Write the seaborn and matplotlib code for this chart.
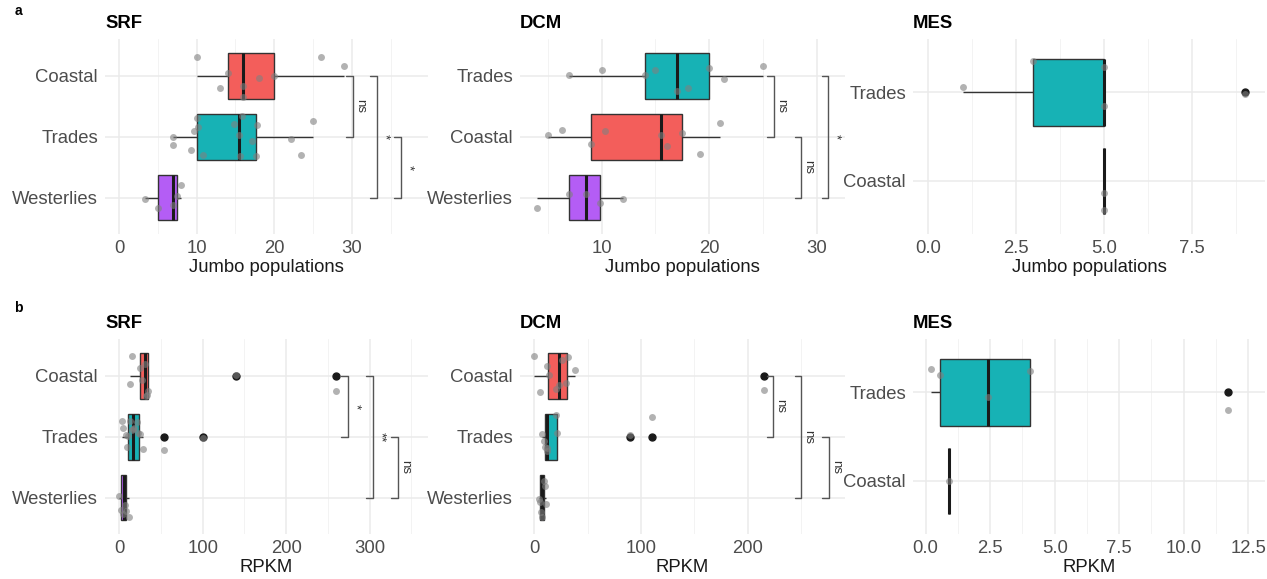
import numpy as np
import pandas as pd
import matplotlib
matplotlib.use("Agg")
import matplotlib.pyplot as plt
import seaborn as sns
from matplotlib.ticker import MultipleLocator, FormatStrFormatter

# panel a: number of jumbo phage populations per sample
jumbo_srf_coastal = [10, 13, 14, 16, 16, 18, 20, 26, 29]
jumbo_srf_trades = [7, 7, 9.3, 9.6, 10, 10.2, 10.8, 14.8, 15.5, 15.6, 15.8, 17.1, 17.7, 17.8, 22.2, 23.4, 25]
jumbo_srf_westerlies = [3.3, 5, 7, 7.5, 8]
jumbo_dcm_trades = [7, 10, 14, 15, 17, 18, 20, 21.4, 25]
jumbo_dcm_coastal = [5, 6.3, 9, 10.3, 15.5, 16.1, 17.5, 19.2, 21]
jumbo_dcm_westerlies = [4, 7, 8.5, 9.8, 12]
jumbo_mes_trades = [1, 3, 5, 5, 9]
jumbo_mes_coastal = [5, 5]

# panel b: RPKM
rpkm_srf_coastal = [13, 15, 25, 27, 31, 32, 33, 35, 140, 260]
rpkm_srf_trades = [3, 5, 8, 9, 11, 13, 15, 16, 18, 21, 23, 25, 28, 54, 101]
rpkm_srf_westerlies = [0, 2, 5, 7, 8, 12]
rpkm_dcm_coastal = [0, 5, 12, 14, 20, 23, 26, 30, 32, 38, 215]
rpkm_dcm_trades = [7, 9, 10, 11.5, 12, 20, 21.5, 90, 110]
rpkm_dcm_westerlies = [4, 5, 6, 7, 9, 10, 11]
rpkm_mes_trades = [0.2, 0.55, 2.4, 4.05, 11.7]
rpkm_mes_coastal = [0.9]

# significance brackets: (group1, group2, bracket position, label)
sig_a_srf = [("Coastal", "Trades", 30.1, "ns"), ("Coastal", "Westerlies", 33.2, "*"), ("Trades", "Westerlies", 36.3, "*")]
sig_a_dcm = [("Trades", "Coastal", 26.0, "ns"), ("Coastal", "Westerlies", 28.6, "ns"), ("Trades", "Westerlies", 31.1, "*")]
sig_b_srf = [("Coastal", "Trades", 274, "*"), ("Coastal", "Westerlies", 304, "**"), ("Trades", "Westerlies", 334, "ns")]
sig_b_dcm = [("Coastal", "Trades", 224, "ns"), ("Coastal", "Westerlies", 250, "ns"), ("Trades", "Westerlies", 275.6, "ns")]

colors = {"Coastal": "#F35E5B", "Trades": "#17B2B5", "Westerlies": "#B45DF5"}

sns.set_style("white")
plt.rcParams["font.family"] = ["Liberation Sans", "DejaVu Sans"]
np.random.seed(7)


def make_df(groups):
    rows = []
    for name, vals in groups.items():
        for v in vals:
            rows.append({"group": name, "value": v})
    return pd.DataFrame(rows)


panels = [
    dict(groups={"Coastal": jumbo_srf_coastal, "Trades": jumbo_srf_trades, "Westerlies": jumbo_srf_westerlies},
         title="SRF", xlabel="Jumbo populations", xlim=(-1.8, 39.8), major=10, minor=5, fmt="%d",
         sig=sig_a_srf, pos=[105, 39.4, 428, 234]),
    dict(groups={"Trades": jumbo_dcm_trades, "Coastal": jumbo_dcm_coastal, "Westerlies": jumbo_dcm_westerlies},
         title="DCM", xlabel="Jumbo populations", xlim=(2.4, 32.65), major=10, minor=5, fmt="%d",
         sig=sig_a_dcm, pos=[520, 39.4, 845, 234]),
    dict(groups={"Trades": jumbo_mes_trades, "Coastal": jumbo_mes_coastal},
         title="MES", xlabel="Jumbo populations", xlim=(-0.42, 9.58), major=2.5, minor=1.25, fmt="%.1f",
         sig=[], pos=[913, 39.4, 1265, 234]),
    dict(groups={"Coastal": rpkm_srf_coastal, "Trades": rpkm_srf_trades, "Westerlies": rpkm_srf_westerlies},
         title="SRF", xlabel="RPKM", xlim=(-17, 370), major=100, minor=50, fmt="%d",
         sig=sig_b_srf, pos=[105, 339.4, 428, 534]),
    dict(groups={"Coastal": rpkm_dcm_coastal, "Trades": rpkm_dcm_trades, "Westerlies": rpkm_dcm_westerlies},
         title="DCM", xlabel="RPKM", xlim=(-13.4, 291), major=100, minor=50, fmt="%d",
         sig=sig_b_dcm, pos=[520, 339.4, 845, 534]),
    dict(groups={"Trades": rpkm_mes_trades, "Coastal": rpkm_mes_coastal},
         title="MES", xlabel="RPKM", xlim=(-0.49, 13.15), major=2.5, minor=1.25, fmt="%.1f",
         sig=[], pos=[913, 339.4, 1265, 534]),
]

W, H = 1267, 579
fig = plt.figure(figsize=(W / 100, H / 100), dpi=100)

for p in panels:
    x0, y0, x1, y1 = p["pos"]
    ax = fig.add_axes([x0 / W, 1 - y1 / H, (x1 - x0) / W, (y1 - y0) / H])
    df = make_df(p["groups"])
    order = list(p["groups"].keys())

    sns.boxplot(data=df, x="value", y="group", hue="group", order=order, hue_order=order,
                palette=colors, saturation=1, width=0.75, linecolor="#333333", linewidth=1,
                showcaps=False, legend=False, ax=ax,
                medianprops=dict(color="#1A1A1A", linewidth=2.2),
                flierprops=dict(marker="o", markerfacecolor="#1A1A1A", markeredgecolor="#1A1A1A",
                                markersize=5))
    sns.stripplot(data=df, x="value", y="group", order=order, color="#808080", alpha=0.6,
                  size=5, jitter=0.36, linewidth=0, ax=ax)

    lo, hi = p["xlim"]
    rng = hi - lo
    for g1, g2, xb, lab in p["sig"]:
        ya, yb = order.index(g1), order.index(g2)
        tip = 0.02 * rng
        ax.plot([xb - tip, xb, xb, xb - tip], [ya, ya, yb, yb], color="#555555", lw=1, zorder=5)
        ax.text(xb + 0.022 * rng, (ya + yb) / 2, lab, rotation=-90, ha="center", va="center",
                fontsize=9.5, color="#333333")

    ax.set_xlim(lo, hi)
    ax.set_ylim(len(order) - 0.4, -0.6)
    ax.xaxis.set_major_locator(MultipleLocator(p["major"]))
    ax.xaxis.set_minor_locator(MultipleLocator(p["minor"]))
    ax.xaxis.set_major_formatter(FormatStrFormatter(p["fmt"]))
    ax.grid(which="major", axis="both", color="#EBEBEB", lw=1.1)
    ax.grid(which="minor", axis="x", color="#F3F3F3", lw=0.7)
    ax.set_axisbelow(True)
    for s in ax.spines.values():
        s.set_visible(False)
    ax.tick_params(axis="both", which="both", length=0, labelsize=13.3, labelcolor="#4D4D4D")
    ax.tick_params(axis="y", pad=5)
    ax.tick_params(axis="x", pad=4)
    ax.set_ylabel("")
    ax.set_xlabel(p["xlabel"], fontsize=13.3, color="#1A1A1A", labelpad=2)
    ax.set_title(p["title"], loc="left", fontsize=13.3, fontweight="bold", color="black", pad=8)

fig.text(18 / W, 1 - 11 / H, "a", fontsize=10, fontweight="bold", color="black", ha="center", va="center")
fig.text(18 / W, 1 - 308 / H, "b", fontsize=10, fontweight="bold", color="black", ha="center", va="center")

fig.savefig("out.png", dpi=100)
